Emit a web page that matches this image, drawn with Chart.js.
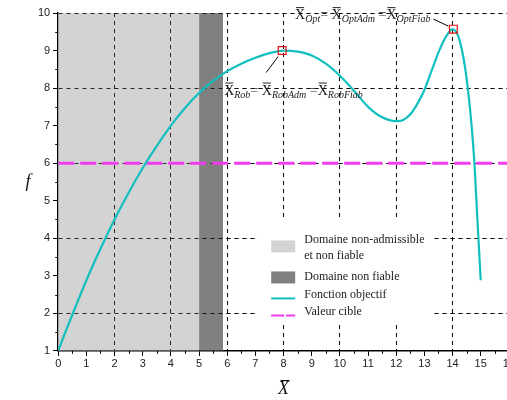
<!DOCTYPE html>
<html>
<head>
<meta charset="utf-8">
<script src="https://cdn.jsdelivr.net/npm/chart.js@4.4.0/dist/chart.umd.min.js"></script>
<style>
  html, body { margin: 0; padding: 0; background: #fff; overflow: hidden; }
  #wrap { width: 517px; height: 400px; }
</style>
</head>
<body>
<div id="wrap"><canvas id="myChart"></canvas></div>
<script>
// objective function f(X)
const xValues = [0, 0.25, 0.5, 1, 1.5, 2, 2.5, 3, 3.5, 4, 4.5, 5, 5.5, 6, 6.5, 7, 7.5, 8, 8.5, 9, 9.5, 10, 10.5, 11, 11.5, 12, 12.25, 12.5, 12.75, 13, 13.25, 13.5, 13.75, 14, 14.25, 14.5, 14.75, 14.9, 15];
const fValues = [1, 1.49, 1.96, 2.88, 3.72, 4.5, 5.21, 5.87, 6.46, 7.0, 7.47, 7.87, 8.19, 8.45, 8.65, 8.81, 8.93, 9.0, 8.97, 8.87, 8.65, 8.33, 7.93, 7.5, 7.22, 7.12, 7.15, 7.3, 7.58, 7.95, 8.45, 8.95, 9.35, 9.57, 9.27, 8.25, 6.3, 4.25, 2.88];

const targetValue = 6;
const infeasibleRange = [0, 5];      // domaine non-admissible et non fiable
const unreliableRange = [5, 5.85];   // domaine non fiable
const robustPoint = { x: 7.95, y: 9.0 };
const optimumPoint = { x: 14.03, y: 9.57 };

const xMin = 0, xMax = 16;
const yMin = 1, yMax = 10;

const legendLabels = [['Domaine non-admissible', 'et non fiable'], ['Domaine non fiable'], ['Fonction objectif'], ['Valeur cible']];

const colLight = '#d3d3d3';
const colDark = '#808080';
const colCurve = '#12bfbf';
const colTarget = '#f03cf0';

const curveData = xValues.map((x, i) => ({ x: x, y: fValues[i] }));

// redraw the dashed grid on top of the shaded domains
const gridOverRegions = {
  id: 'gridOverRegions',
  afterDatasetDraw(chart, args) {
    if (args.index !== 1) return;
    const area = chart.chartArea;
    chart.ctx.save();
    chart.scales.x.drawGrid(area);
    chart.scales.y.drawGrid(area);
    chart.ctx.restore();
  }
};

function drawMath(ctx, parts, x, y, align) {
  const big = '14px "Liberation Serif"';
  const small = 'italic 10px "Liberation Serif"';
  let w = 0;
  parts.forEach(p => {
    ctx.font = p.sub ? small : big;
    p.w = ctx.measureText(p.t).width;
    w += p.w;
  });
  let cx = align === 'right' ? x - w : x;
  ctx.textBaseline = 'alphabetic';
  ctx.textAlign = 'left';
  parts.forEach(p => {
    ctx.font = p.sub ? small : big;
    ctx.fillText(p.t, cx, p.sub ? y + 3 : y);
    if (p.bar) {
      ctx.beginPath();
      ctx.moveTo(cx + 1, y - 11.5);
      ctx.lineTo(cx + p.w - 1, y - 11.5);
      ctx.stroke();
    }
    cx += p.w;
  });
}

const decorations = {
  id: 'decorations',
  afterDraw(chart) {
    const ctx = chart.ctx;
    const sx = chart.scales.x, sy = chart.scales.y;
    const a = chart.chartArea;
    ctx.save();

    // minor ticks
    ctx.strokeStyle = '#000';
    ctx.lineWidth = 1;
    ctx.beginPath();
    for (let v = xMin + 0.5; v < xMax; v += 1) {
      const px = Math.round(sx.getPixelForValue(v)) + 0.5;
      ctx.moveTo(px, a.bottom);
      ctx.lineTo(px, a.bottom + 3);
    }
    for (let v = yMin + 0.5; v < yMax; v += 1) {
      const py = Math.round(sy.getPixelForValue(v)) + 0.5;
      ctx.moveTo(a.left, py);
      ctx.lineTo(a.left - 3, py);
    }
    ctx.stroke();

    // axis titles
    ctx.fillStyle = '#111';
    ctx.strokeStyle = '#111';
    ctx.font = 'italic 18px "Liberation Serif"';
    ctx.textAlign = 'center';
    ctx.textBaseline = 'middle';
    ctx.fillText('f', 28, (a.top + a.bottom) / 2);
    const cx = (a.left + a.right) / 2;
    ctx.fillText('X', cx, 389);
    ctx.lineWidth = 1;
    ctx.beginPath();
    ctx.moveTo(cx - 3, 380.5);
    ctx.lineTo(cx + 6, 380.5);
    ctx.stroke();

    // annotations
    const rx = sx.getPixelForValue(robustPoint.x), ry = sy.getPixelForValue(robustPoint.y);
    const ox = sx.getPixelForValue(optimumPoint.x), oy = sy.getPixelForValue(optimumPoint.y);
    ctx.strokeStyle = '#000';
    ctx.lineWidth = 1;
    ctx.beginPath();
    ctx.moveTo(rx - 4, ry + 6);
    ctx.lineTo(rx - 16, ry + 22);
    ctx.moveTo(ox - 5, oy - 3);
    ctx.lineTo(ox - 20, oy - 10);
    ctx.stroke();

    ctx.fillStyle = '#222';
    ctx.strokeStyle = '#222';
    drawMath(ctx, [
      { t: 'X', bar: true }, { t: 'Opt', sub: true }, { t: '= ' },
      { t: 'X', bar: true }, { t: 'OptAdm', sub: true }, { t: ' =' },
      { t: 'X', bar: true }, { t: 'OptFiab', sub: true }
    ], ox - 23, oy - 10, 'right');
    drawMath(ctx, [
      { t: 'X', bar: true }, { t: 'Rob', sub: true }, { t: '= ' },
      { t: 'X', bar: true }, { t: 'RobAdm', sub: true }, { t: ' =' },
      { t: 'X', bar: true }, { t: 'RobFiab', sub: true }
    ], rx - 58, ry + 44, 'left');

    // legend
    const lx = sx.getPixelForValue(7.1), ly = sy.getPixelForValue(4.5);
    ctx.fillStyle = '#fff';
    ctx.fillRect(lx, ly, 176, 105);
    const sw = lx + 13;
    ctx.fillStyle = colLight;
    ctx.fillRect(sw, ly + 21, 24, 12);
    ctx.fillStyle = colDark;
    ctx.fillRect(sw, ly + 52, 24, 12);
    ctx.lineWidth = 2;
    ctx.strokeStyle = colCurve;
    ctx.beginPath();
    ctx.moveTo(sw, ly + 79);
    ctx.lineTo(sw + 24, ly + 79);
    ctx.stroke();
    ctx.strokeStyle = colTarget;
    ctx.setLineDash([13, 2]);
    ctx.beginPath();
    ctx.moveTo(sw, ly + 96);
    ctx.lineTo(sw + 24, ly + 96);
    ctx.stroke();
    ctx.setLineDash([]);

    ctx.fillStyle = '#222';
    ctx.font = '12px "Liberation Serif"';
    ctx.textAlign = 'left';
    ctx.textBaseline = 'middle';
    const tx = sw + 33;
    ctx.fillText(legendLabels[0][0], tx, ly + 20);
    ctx.fillText(legendLabels[0][1], tx, ly + 36);
    ctx.fillText(legendLabels[1][0], tx, ly + 57);
    ctx.fillText(legendLabels[2][0], tx, ly + 75);
    ctx.fillText(legendLabels[3][0], tx, ly + 92);

    ctx.restore();
  }
};

const ctx = document.getElementById('myChart');

new Chart(ctx, {
  type: 'line',
  data: {
    datasets: [
      {
        label: legendLabels[0].join(' '),
        data: [{ x: infeasibleRange[0], y: yMax }, { x: infeasibleRange[1], y: yMax }],
        backgroundColor: colLight,
        borderWidth: 0,
        pointRadius: 0,
        fill: 'start',
        order: 5
      }, {
        label: legendLabels[1][0],
        data: [{ x: unreliableRange[0], y: yMax }, { x: unreliableRange[1], y: yMax }],
        backgroundColor: colDark,
        borderWidth: 0,
        pointRadius: 0,
        fill: 'start',
        order: 4
      }, {
        label: legendLabels[3][0],
        data: [{ x: xMin, y: targetValue }, { x: xMax, y: targetValue }],
        borderColor: colTarget,
        borderWidth: 3,
        borderDash: [16, 6],
        pointRadius: 0,
        order: 3
      }, {
        label: legendLabels[2][0],
        data: curveData,
        borderColor: colCurve,
        borderWidth: 2.2,
        pointRadius: 0,
        cubicInterpolationMode: 'monotone',
        order: 2
      }, {
        label: 'points',
        data: [robustPoint, optimumPoint],
        showLine: false,
        pointStyle: 'rect',
        pointRadius: 5.5,
        borderColor: '#e01010',
        borderWidth: 1.2,
        backgroundColor: 'rgba(0,0,0,0)',
        order: 1
      }
    ]
  },
  options: {
    responsive: true,
    maintainAspectRatio: false,
    animation: false,
    layout: { padding: { left: 35, right: 0, top: 13, bottom: 27 } },
    plugins: {
      legend: { display: false },
      tooltip: { enabled: false }
    },
    scales: {
      x: {
        type: 'linear',
        min: xMin,
        max: xMax,
        ticks: {
          stepSize: 1,
          autoSkip: false,
          maxRotation: 0,
          padding: 2,
          color: '#222',
          font: { family: 'Liberation Sans', size: 11 }
        },
        grid: {
          color: c => (c.tick && c.tick.value % 2 === 0 && c.tick.value > xMin) ? 'rgba(0,0,0,0.8)' : 'rgba(0,0,0,0)',
          tickColor: '#000',
          tickLength: 5,
          lineWidth: 1
        },
        border: { display: true, color: '#000', width: 1.5, dash: [4, 4] }
      },
      y: {
        min: yMin,
        max: yMax,
        ticks: {
          stepSize: 1,
          padding: 3,
          color: '#222',
          font: { family: 'Liberation Sans', size: 11 }
        },
        grid: {
          color: c => (c.tick && c.tick.value % 2 === 0) ? 'rgba(0,0,0,0.8)' : 'rgba(0,0,0,0)',
          tickColor: '#000',
          tickLength: 5,
          lineWidth: 1
        },
        border: { display: true, color: '#000', width: 1.5, dash: [4, 4] }
      }
    }
  },
  plugins: [gridOverRegions, decorations]
});
</script>
</body>
</html>
